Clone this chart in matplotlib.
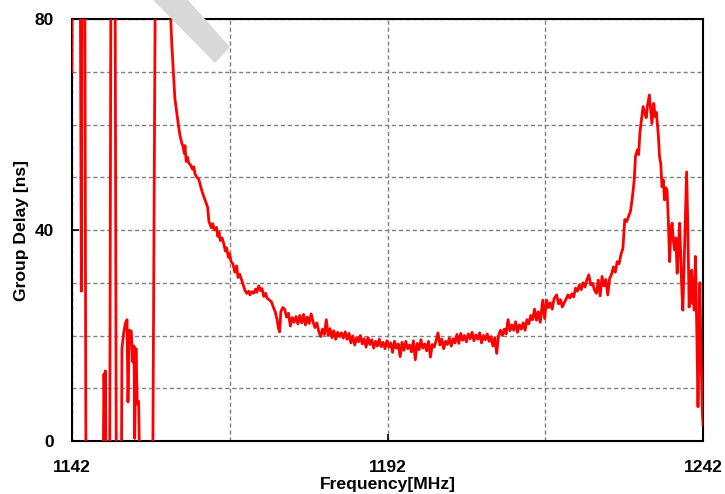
import matplotlib
matplotlib.use('Agg')
from matplotlib import pyplot
from matplotlib.patches import Polygon as PolygonPatch
from matplotlib.ticker import FixedLocator, MultipleLocator

# Measured group delay, read off the reference plot
# values above 80 or below 0 run off the plot area and get clipped
FREQ_EDGE = [1142.0, 1142.2, 1143.16, 1143.48, 1143.69, 1143.9, 1144.22, 1146.91, 1147.07,
             1147.2, 1147.28, 1147.44, 1147.97, 1148.29, 1148.71, 1149.03, 1149.82, 1149.92,
             1150.19, 1150.45, 1150.72, 1150.87, 1151.09, 1151.4, 1151.61, 1151.83, 1151.93,
             1152.14, 1152.35, 1152.56, 1152.72, 1154.78, 1155.47]
DELAY_EDGE = [70, 150, 150, 28.4, 150, 150, -10, -10, 12.7,
              4, 13.3, -10, -10, 150, 150, -10, -10, 17.6,
              20.5, 22.3, 23.0, 7.4, 21.0, 20.8, 15.0, 18.0, 0.5,
              17.5, 7.0, 7.5, -5, -10, 150]

FREQ_FALL = [1157.3, 1157.8, 1158.3, 1158.85, 1159.1, 1159.4, 1159.6, 1159.8, 1159.9, 1160.1,
             1160.3, 1160.5, 1160.8, 1161.1, 1161.3, 1161.5, 1161.8, 1162.1, 1162.4, 1162.7,
             1163.0, 1163.3, 1163.5, 1163.7, 1163.9, 1164.1, 1164.3, 1164.6, 1164.9, 1165.1,
             1165.3, 1165.5, 1165.8, 1166.1, 1166.3, 1166.5, 1166.8, 1167.0, 1167.2, 1167.5,
             1167.8, 1168.1, 1168.3, 1168.6, 1168.9, 1169.1, 1169.4, 1169.7, 1170.0, 1170.2,
             1170.5, 1170.8, 1171.1, 1171.3, 1171.6, 1171.9, 1172.1, 1172.4, 1172.7, 1172.9,
             1173.2, 1173.6, 1173.9, 1174.2, 1174.5, 1174.7, 1174.9]
DELAY_FALL = [90, 75.6, 65, 60, 58, 56.5, 55.8, 54.5, 56.0, 53.0,
              53.8, 52.7, 52.3, 51.5, 52.0, 50.6, 50.0, 49.6, 48.2, 47.0,
              46.0, 45.0, 44.3, 41.6, 41.0, 40.4, 41.2, 40.0, 40.5, 38.8,
              39.6, 38.0, 38.5, 37.2, 36.0, 36.6, 34.8, 35.5, 34.0, 33.6,
              32.0, 33.2, 31.0, 31.6, 30.5, 29.8, 28.6, 28.0, 28.4, 27.7,
              28.3, 28.0, 28.8, 28.2, 29.4, 28.5, 28.9, 27.4, 28.0, 27.1,
              26.8, 26.4, 25.4, 24.5, 23.0, 21.5, 20.7]

# pass band, sampled every 0.3 MHz from 1175.1 to 1216.3
PASS_START = 1175.1
PASS_STEP = 0.3
DELAY_PASS = [24.5, 25.3, 25.0, 23.5, 24.2, 21.8, 23.4, 22.5, 23.6, 22.2,
              23.8, 22.4, 24.0, 22.0, 23.5, 22.3, 24.1, 22.6, 21.5, 22.4,
              20.8, 19.8, 21.2, 20.2, 23.0, 20.0, 21.3, 19.6, 20.9, 19.3,
              20.6, 19.8, 20.5, 19.5, 20.7, 19.3, 20.4, 18.6, 19.9, 18.2,
              19.6, 18.8, 20.0, 18.4, 19.4, 17.8, 19.6, 18.3, 19.2, 17.6,
              18.9, 18.0, 19.3, 17.9, 18.7, 17.5, 19.0, 17.8, 18.6, 16.8,
              18.9, 17.6, 18.4, 16.0, 18.7, 17.2, 18.9, 17.5, 18.2, 16.9,
              19.0, 15.4, 18.5, 17.3, 19.2, 17.6, 18.4, 17.1, 18.9, 15.9,
              18.3, 17.8, 19.0, 20.5, 18.2, 19.3, 17.5, 18.9, 18.3, 19.5,
              18.0, 19.4, 18.6, 20.2, 18.5, 20.4, 19.1, 20.0, 18.8, 20.3,
              19.4, 20.6, 19.0, 20.1, 19.3, 20.5, 18.6, 20.0, 19.2, 20.3,
              18.9, 19.8, 18.0, 19.6, 16.6, 20.0, 21.0, 20.0, 21.2, 20.3,
              23.0, 20.9, 22.0, 21.0, 22.6, 20.6, 22.0, 21.2, 22.4, 21.0,
              23.0, 22.2, 23.8, 23.0, 25.0, 22.9, 24.5, 22.5]

FREQ_UPPER = [1216.6, 1216.9, 1217.2, 1217.5, 1217.8, 1218.1, 1218.4, 1218.8, 1219.1, 1219.4,
              1219.7, 1220.0, 1220.3, 1220.6, 1220.9, 1221.2, 1221.5, 1221.8, 1222.1, 1222.4,
              1222.7, 1223.0, 1223.3, 1223.6, 1223.9, 1224.2, 1224.5, 1224.8, 1225.1, 1225.4,
              1225.7, 1226.0, 1226.3, 1226.6, 1226.9, 1227.2, 1227.5, 1227.8, 1228.1, 1228.4,
              1228.7, 1229.0, 1229.3, 1229.6, 1229.9, 1230.2, 1230.5, 1230.8, 1231.1, 1231.3,
              1231.6, 1231.8, 1232.0, 1232.3, 1232.5, 1232.8, 1233.0, 1233.2, 1233.5, 1233.7,
              1233.9, 1234.2, 1234.4, 1234.6, 1234.9, 1235.1, 1235.3, 1235.5, 1235.7, 1235.9,
              1236.1, 1236.3, 1236.5, 1236.7, 1236.9, 1237.1, 1237.3, 1237.5, 1237.7, 1237.9,
              1238.1, 1238.3, 1238.6, 1238.8, 1239.1, 1239.4, 1239.6, 1239.8, 1240.0, 1240.2,
              1240.4, 1240.5, 1240.6, 1240.8, 1241.0, 1241.2, 1241.4, 1241.5, 1241.7, 1241.9,
              1242.0]
DELAY_UPPER = [26.7, 23.2, 26.7, 25.3, 26.2, 25.0, 27.0, 27.7, 26.0, 26.8,
               25.4, 26.2, 26.9, 27.7, 27.1, 27.9, 27.3, 29.0, 28.4, 29.6,
               28.7, 30.0, 29.2, 30.6, 31.5, 29.6, 29.9, 28.6, 28.0, 30.5,
               27.5, 31.2, 29.4, 30.6, 27.7, 30.8, 31.6, 33.0, 32.0, 34.0,
               33.6, 35.4, 36.5, 42.0, 41.6, 42.6, 43.5, 46.2, 49.5, 54.0,
               55.2, 54.3, 58.5, 61.5, 63.4, 62.0, 61.3, 63.6, 65.6, 63.0,
               60.2, 64.0, 61.5, 62.3, 58.3, 54.0, 52.6, 48.2, 49.5, 45.7,
               48.0, 47.5, 41.9, 34.0, 40.0, 41.3, 38.0, 36.2, 38.5, 31.8,
               37.0, 41.3, 30.0, 24.8, 38.0, 51.0, 40.0, 25.4, 30.0, 32.4,
               26.0, 31.0, 24.8, 35.0, 22.0, 6.5, 22.0, 30.0, 15.0, 5.3,
               3.0]

X_TICKS = [1142, 1192, 1242]
X_GRID = [1167, 1217]
Y_TICKS = [0, 40, 80]

FONT = 'Liberation Sans'


def main():
    freq_pass = [round(PASS_START + PASS_STEP * i, 2) for i in range(len(DELAY_PASS))]
    freq = FREQ_EDGE + FREQ_FALL + freq_pass + FREQ_UPPER
    delay = DELAY_EDGE + DELAY_FALL + DELAY_PASS + DELAY_UPPER

    figure = pyplot.figure(figsize=(7.25, 4.94), dpi=100)
    axes = figure.add_axes([0.0993, 0.1073, 0.8704, 0.8542])

    # grey diagonal watermark stroke at the top left
    corners = [(153, 0), (188, 0), (230, 47), (215, 63)]
    corners = [(x / 725, 1 - y / 494) for x, y in corners]
    figure.patches.append(PolygonPatch(corners, closed=True, facecolor='#d9d9d9',
                                       edgecolor='none', transform=figure.transFigure,
                                       zorder=0))

    axes.plot(freq, delay, color='#ff0000', linewidth=2.0, zorder=3)

    axes.set_xlim(1142, 1242)
    axes.set_ylim(0, 80)
    axes.set_xticks(X_TICKS)
    axes.set_yticks(Y_TICKS)
    axes.xaxis.set_minor_locator(FixedLocator(X_GRID))
    axes.yaxis.set_minor_locator(MultipleLocator(10))
    axes.grid(which='both', color='#808080', linestyle=(0, (3, 2)), linewidth=1.0)
    axes.set_axisbelow(True)
    axes.tick_params(which='major', direction='in', length=5, width=1.2)
    axes.tick_params(axis='x', which='major', pad=14)
    axes.tick_params(axis='y', which='major', pad=13)
    axes.tick_params(which='minor', length=0)
    axes.patch.set_alpha(0)

    for label in axes.get_xticklabels() + axes.get_yticklabels():
        label.set_fontfamily(FONT)
        label.set_fontweight('bold')
        label.set_fontsize(12.5)

    for spine in axes.spines.values():
        spine.set_linewidth(1.5)
        spine.set_color('#000000')

    axes.set_xlabel('Frequency[MHz]', fontfamily=FONT, fontweight='bold', fontsize=12.6, labelpad=1)
    axes.set_ylabel('Group Delay [ns]', fontfamily=FONT, fontweight='bold', fontsize=12.6, labelpad=4)

    figure.savefig('out.png', dpi=100)


if __name__ == '__main__':
    main()
